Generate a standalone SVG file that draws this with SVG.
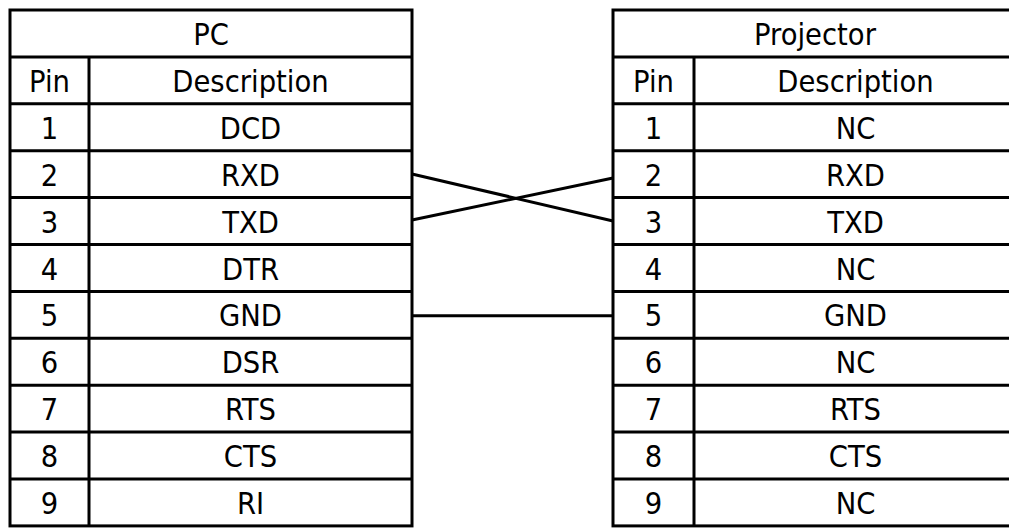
<svg xmlns="http://www.w3.org/2000/svg" width="1009" height="530" viewBox="0 0 1009 530">
<style>
.grid{stroke:#000;stroke-width:3;fill:none}
.wire{stroke:#000;stroke-width:3;fill:none}
text{font-family:"DejaVu Sans Condensed","DejaVu Sans",sans-serif;font-stretch:condensed;font-size:30.5px;fill:#000;text-anchor:middle}
</style>
<rect width="1009" height="530" fill="#fff"/>
<g id="pc">
<rect class="grid" x="10" y="10" width="402" height="515.9"/>
<path class="grid" d="M10 56.9H412M10 103.8H412M10 150.7H412M10 197.6H412M10 244.5H412M10 291.4H412M10 338.3H412M10 385.2H412M10 432.1H412M10 479H412M89 56.9V525.9"/>
<text x="211" y="45">PC</text>
<text x="49.5" y="91.9">Pin</text><text x="250.5" y="91.9">Description</text>
<text x="49.5" y="138.8">1</text><text x="250.5" y="138.8">DCD</text>
<text x="49.5" y="185.7">2</text><text x="250.5" y="185.7">RXD</text>
<text x="49.5" y="232.6">3</text><text x="250.5" y="232.6">TXD</text>
<text x="49.5" y="279.5">4</text><text x="250.5" y="279.5">DTR</text>
<text x="49.5" y="326.4">5</text><text x="250.5" y="326.4">GND</text>
<text x="49.5" y="373.3">6</text><text x="250.5" y="373.3">DSR</text>
<text x="49.5" y="420.2">7</text><text x="250.5" y="420.2">RTS</text>
<text x="49.5" y="467.1">8</text><text x="250.5" y="467.1">CTS</text>
<text x="49.5" y="514">9</text><text x="250.5" y="514">RI</text>
</g>
<g id="projector">
<rect class="grid" x="613" y="10" width="404" height="515.9"/>
<path class="grid" d="M613 56.9H1017M613 103.8H1017M613 150.7H1017M613 197.6H1017M613 244.5H1017M613 291.4H1017M613 338.3H1017M613 385.2H1017M613 432.1H1017M613 479H1017M694 56.9V525.9"/>
<text x="815" y="45">Projector</text>
<text x="653.5" y="91.9">Pin</text><text x="855.5" y="91.9">Description</text>
<text x="653.5" y="138.8">1</text><text x="855.5" y="138.8">NC</text>
<text x="653.5" y="185.7">2</text><text x="855.5" y="185.7">RXD</text>
<text x="653.5" y="232.6">3</text><text x="855.5" y="232.6">TXD</text>
<text x="653.5" y="279.5">4</text><text x="855.5" y="279.5">NC</text>
<text x="653.5" y="326.4">5</text><text x="855.5" y="326.4">GND</text>
<text x="653.5" y="373.3">6</text><text x="855.5" y="373.3">NC</text>
<text x="653.5" y="420.2">7</text><text x="855.5" y="420.2">RTS</text>
<text x="653.5" y="467.1">8</text><text x="855.5" y="467.1">CTS</text>
<text x="653.5" y="514">9</text><text x="855.5" y="514">NC</text>
</g>
<g id="connectors">
<line class="wire" x1="412" y1="174" x2="613" y2="221"/>
<line class="wire" x1="412" y1="220" x2="613" y2="178"/>
<line class="wire" x1="412" y1="315.7" x2="613" y2="315.7"/>
</g>
</svg>
